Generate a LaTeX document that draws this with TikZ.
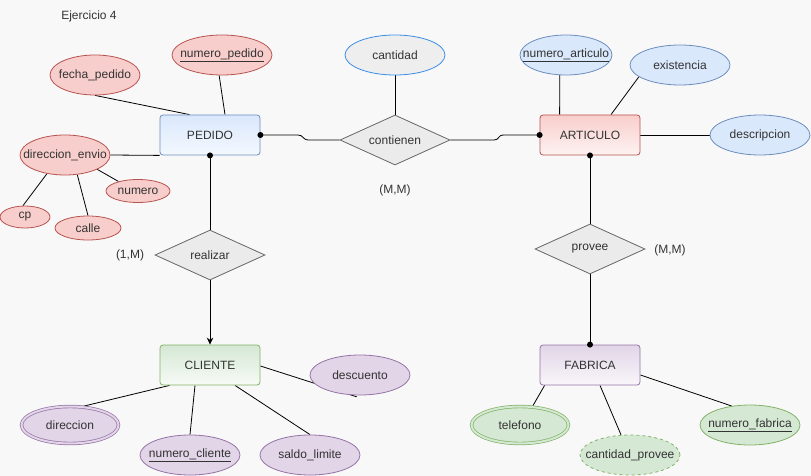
\documentclass[tikz,border=0pt]{standalone}
\usepackage{fontspec}
\setmainfont{Liberation Sans}
\usetikzlibrary{shapes.geometric,arrows.meta}
\pgfdeclarelayer{bg}\pgfdeclarelayer{edges}\pgfsetlayers{bg,edges,main}
\definecolor{bgc}{HTML}{F8F8F8}
\definecolor{txt}{HTML}{333333}
\definecolor{blueFill}{HTML}{DAE8FC}\definecolor{blueStroke}{HTML}{6C8EBF}
\definecolor{redFill}{HTML}{F8CECC}\definecolor{redStroke}{HTML}{B85450}
\definecolor{greenFill}{HTML}{D5E8D4}\definecolor{greenStroke}{HTML}{82B366}
\definecolor{purpleFill}{HTML}{E1D5E7}\definecolor{purpleStroke}{HTML}{9673A6}
\definecolor{relFill}{HTML}{EBEBEB}\definecolor{relStroke}{HTML}{666666}
\definecolor{cantFill}{HTML}{EEEEEE}\definecolor{cantStroke}{HTML}{3A8EE6}
\newcommand\zw[1]{\makebox[0pt]{#1}}
\begin{document}
\begin{tikzpicture}[x=1pt,y=-1pt,
  font=\fontsize{12}{14}\selectfont, text=txt,
  entity/.style={rectangle, rounded corners=3pt, minimum width=100pt, minimum height=40pt, inner sep=0pt, line width=0.8pt},
  attr/.style={ellipse, minimum width=100pt, minimum height=40pt, inner sep=0pt, line width=0.8pt},
  redattr/.style={attr, draw=redStroke, fill=redFill},
  blueattr/.style={attr, draw=blueStroke, fill=blueFill},
  purpleattr/.style={attr, draw=purpleStroke, fill=purpleFill},
  greenattr/.style={attr, draw=greenStroke, fill=greenFill},
  multiattr/.style={double distance=2pt, line width=0.7pt, minimum width=97pt, minimum height=37pt},
  rel/.style={diamond, aspect=2.2, minimum width=110pt, minimum height=50pt, inner sep=0pt, draw=relStroke, fill=relFill, line width=0.8pt},
  conn/.style={line width=0.8pt, draw=black},
  lbl/.style={inner sep=0pt},
  dot/.style={fill=black}
]
\begin{pgfonlayer}{bg}
\fill[bgc] (0,0) rectangle (811,476);
\end{pgfonlayer}
\useasboundingbox (0,0) rectangle (811,476);

% title
\node[lbl] (title) at (89,16) {Ejercicio 4};

% entities
\node[entity, draw=blueStroke, top color=blueFill, bottom color=blueFill!30!white] (PEDIDO) at (210,135) {PEDIDO};
\node[entity, draw=redStroke, top color=redFill, bottom color=redFill!25!white] (ARTICULO) at (590,135) {ARTICULO};
\node[entity, draw=greenStroke, top color=greenFill, bottom color=greenFill!20!white] (CLIENTE) at (210,365) {CLIENTE};
\node[entity, draw=purpleStroke, top color=purpleFill, bottom color=purpleFill!20!white] (FABRICA) at (590,365) {FABRICA};

% relationships
\node[rel] (contienen) at (395,140) {\zw{contienen}};
\node[rel] (realizar) at (210,255) {\zw{realizar}};
\node[rel] (provee) at (590,249) {\zw{provee}};

% PEDIDO attributes
\node[redattr] (numero_pedido) at (222,55) {\zw{\underline{numero\_pedido}}};
\node[redattr, minimum width=90pt] (fecha_pedido) at (95,75) {\zw{fecha\_pedido}};
\node[redattr, minimum width=90pt] (direccion_envio) at (65,155) {\zw{direccion\_envio}};
\node[redattr, minimum width=64pt, minimum height=23pt] (numero) at (138,191) {\zw{numero}};
\node[redattr, minimum width=50pt, minimum height=22pt] (cp) at (25,217) {\zw{cp}};
\node[redattr, minimum width=66pt, minimum height=24pt] (calle) at (88,228) {\zw{calle}};

% contienen attribute
\node[attr, draw=cantStroke, fill=cantFill] (cantidad) at (395,55) {\zw{cantidad}};

% ARTICULO attributes
\node[blueattr, minimum width=92pt] (numero_articulo) at (566,55) {\zw{\underline{numero\_articulo}}};
\node[blueattr] (existencia) at (680,65) {\zw{existencia}};
\node[blueattr] (descripcion) at (760,135) {\zw{descripcion}};

% CLIENTE attributes
\node[purpleattr] (descuento) at (360,375) {\zw{descuento}};
\node[purpleattr, multiattr, double=purpleFill] (direccion) at (70,425) {\zw{direccion}};
\node[purpleattr] (numero_cliente) at (190,455) {\zw{\underline{numero\_cliente}}};
\node[purpleattr] (saldo_limite) at (310,455) {\zw{saldo\_limite}};

% FABRICA attributes
\node[greenattr, multiattr, double=greenFill] (telefono) at (520,425) {\zw{telefono}};
\node[greenattr, dashed] (cantidad_provee) at (630,455) {\zw{cantidad\_provee}};
\node[greenattr] (numero_fabrica) at (750,425) {\zw{\underline{numero\_fabrica}}};

% cardinalities
\node[lbl] (cardCont) at (395,190) {(M,M)};
\node[lbl] (cardReal) at (130,255) {(1,M)};
\node[lbl] (cardProv) at (670,250) {(M,M)};

\begin{pgfonlayer}{edges}
% PEDIDO
\draw[conn] (fecha_pedido.south) -- ([xshift=30pt]PEDIDO.north west);
\draw[conn] (numero_pedido.262) -- ([xshift=15pt]PEDIDO.north);
\draw[conn] (direccion_envio.east) -- (PEDIDO.south west);
\draw[conn] (direccion_envio.226) -- (cp.100);
\draw[conn] (direccion_envio.302) -- (calle.north);
\draw[conn] (direccion_envio.336) -- (numero.154);
% contienen
\draw[conn] (PEDIDO.east) -- (298,135) .. controls (304,135) and (302,140) .. (309,140) -- (contienen.west);
\draw[conn] (contienen.east) -- (494,140) .. controls (500,140) and (497,135) .. (504,135) -- (ARTICULO.west);
\draw[conn] (cantidad.south) -- (contienen.north);
% ARTICULO
\draw[conn] (numero_articulo.253) -- ([xshift=20pt]ARTICULO.north west);
\draw[conn] (existencia.196) -- ([xshift=21pt]ARTICULO.north);
\draw[conn] (ARTICULO.east) -- (descripcion.west);
\draw[conn] (ARTICULO.south) -- (provee.north);
\draw[conn] (provee.south) -- (FABRICA.north);
% FABRICA
\draw[conn] ([xshift=5pt]FABRICA.south west) -- (telefono.56);
\draw[conn] ([xshift=10pt]FABRICA.south) -- (cantidad_provee.114);
\draw[conn] ([yshift=-10pt]FABRICA.east) -- (numero_fabrica.134);
% realizar
\draw[conn] (PEDIDO.south) -- (realizar.north);
\draw[conn, -{Stealth[length=7pt,width=6.5pt]}] (realizar.south) -- (CLIENTE.north);
% CLIENTE
\draw[conn] ([xshift=10pt]CLIENTE.south west) -- (direccion.58);
\draw[conn] ([xshift=-15pt]CLIENTE.south) -- (numero_cliente.north);
\draw[conn] ([xshift=25pt]CLIENTE.south) -- (saldo_limite.north);
\draw[conn] ([yshift=-1pt]CLIENTE.east) -- ([yshift=-1.5pt]descuento.261);
\end{pgfonlayer}

% dots
\fill[dot] (PEDIDO.east) circle (3pt);
\fill[dot] (PEDIDO.south) circle (3pt);
\fill[dot] (ARTICULO.west) circle (3pt);
\fill[dot] (ARTICULO.south) circle (3pt);
\fill[dot] (FABRICA.north) circle (3pt);
\end{tikzpicture}
\end{document}
